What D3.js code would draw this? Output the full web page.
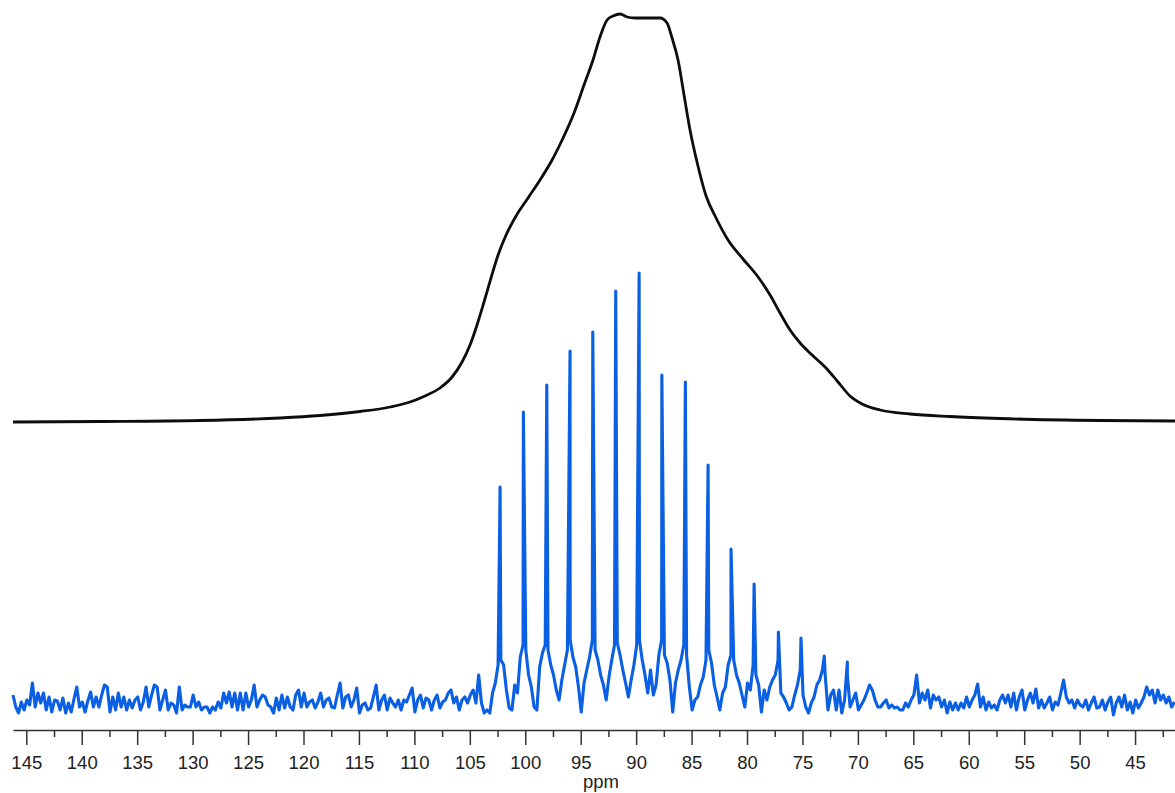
<!DOCTYPE html>
<html lang="en">
<head>
    <meta charset="UTF-8">
    <title>ppm spectrum</title>
    <script src="https://cdn.jsdelivr.net/npm/d3@7/dist/d3.min.js"></script>
    <style>
        body { margin: 0; background: #fff; }
        svg { display: block; }
    </style>
</head>
<body>
<script>
    // blue spectrum: intensity on a regular ppm grid (start, step)
    const gridStart = 146.2
    const gridStep = 0.25
    const specBase = [
        10,-2,-8,3,-5,5,0,22,-2,12,
        2,12,-5,8,-7,5,4,-5,7,-8,
        2,-7,6,18,-2,3,-7,4,13,-2,
        8,-2,10,20,18,-7,8,-5,12,-2,
        8,-5,5,-3,5,8,-5,3,18,-2,
        10,20,18,-5,5,15,-5,2,0,-8,
        18,-5,0,-2,-2,10,-2,3,-5,-2,
        -2,-8,-2,-5,3,-3,12,2,13,-2,
        12,-5,12,-5,12,-2,5,20,-2,5,
        10,8,0,-2,-8,7,-5,10,-3,8,
        -2,-5,10,15,-2,12,-2,3,5,-3,
        3,12,-2,5,7,-2,-3,10,22,-3,
        8,10,-2,5,17,-8,0,2,-5,-3,
        8,20,-5,5,10,-5,7,2,-2,5,
        -5,5,3,10,17,-7,5,10,-3,7,
        5,-5,5,10,-3,3,5,12,15,2,
        8,-5,5,8,2,10,15,2,30,2,
        -8,-5,-8,12,22,40,45,40,15,-3,
        -5,20,12,48,60,55,30,18,-2,-5,
        38,52,60,55,40,30,15,5,25,40,
        55,65,48,38,18,-7,22,35,48,65,
        55,45,30,20,5,28,45,60,62,50,
        35,22,8,25,40,60,65,45,30,12,
        35,10,20,50,65,50,42,25,-7,22,
        35,45,60,50,18,-5,5,8,20,28,
        45,55,42,20,8,-5,12,18,40,50,
        45,30,22,10,-2,22,15,40,30,20,
        -7,15,5,18,25,30,45,12,8,2,
        -5,-2,10,20,35,10,-2,-8,2,8,
        20,25,35,30,-5,10,15,-5,15,-8,
        5,30,-2,5,12,-5,0,5,12,20,
        15,5,-2,-2,2,5,-3,0,-3,-2,
        -5,-5,2,-2,5,10,30,2,12,5,
        15,-3,10,5,8,-2,5,-8,3,-5,
        2,-5,2,-3,8,-2,5,10,21,-2,
        8,-5,3,-3,0,-5,5,10,2,10,
        -2,12,-5,8,15,-5,5,12,2,16,
        -3,5,-3,2,8,-5,3,0,12,25,
        8,2,5,-3,5,0,-2,5,-5,2,
        8,-3,-2,5,-5,3,8,-10,2,8,
        -2,10,-5,3,-8,5,-3,2,8,18,
        10,15,2,15,5,10,2,8,-2,3
    ]

    // sharp lines of the blue spectrum
    const peakPpm = [102.27, 100.17, 98.06, 95.96, 93.91, 91.84, 89.73, 87.68,
                     85.56, 83.51, 81.44, 79.36, 77.17, 75.13, 73.03, 70.95]
    const peakInt = [218, 293, 320, 354, 373, 414, 432, 330,
                     323, 240, 156, 121, 73, 67, 49, 43]

    // black broad envelope
    const envPpm = [146.2, 138.35, 129.33, 122.12, 118.51, 114.9, 112.2, 110.39, 109.04, 107.69,
                    106.6, 105.7, 104.98, 104.35, 103.72, 103.09, 102.45, 101.73, 100.83, 99.75,
                    98.67, 97.58, 96.59, 95.6, 94.7, 93.89, 93.26, 92.62, 92.08, 91.45,
                    90.82, 90.1, 88.93, 87.84, 87.21, 86.76, 86.22, 85.68, 85.14, 84.51,
                    83.69, 82.79, 81.71, 80.36, 79.0, 77.92, 77.02, 76.12, 75.21, 74.13,
                    72.96, 71.79, 70.71, 69.62, 68.0, 65.3, 61.69, 57.18, 48.16, 41.4]
    const envInt = [0, 0.5, 1.5, 4, 6.5, 10.5, 15, 20, 26, 34,
                    45, 60, 77, 97, 120, 144, 167, 187, 206, 224,
                    242, 262, 284, 309, 337, 362, 385, 402, 406, 408,
                    405, 404, 404, 404, 399, 384, 362, 327, 292, 260,
                    226, 204, 182, 163, 145, 127, 109, 92, 79, 67,
                    55, 40, 26, 18, 12, 8, 5.5, 3.5, 1.5, 1]

    const majorTicks = [145, 140, 135, 130, 125, 120, 115, 110, 105, 100, 95, 90, 85, 80, 75, 70, 65, 60, 55, 50, 45]
    const minorTicks = [142.5, 137.5, 132.5, 127.5, 122.5, 117.5, 112.5, 107.5, 102.5, 97.5, 92.5,
                        87.5, 82.5, 77.5, 72.5, 67.5, 62.5, 57.5, 52.5, 47.5, 42.5]
    const axisTitle = 'ppm'

    const [width, height] = [1175, 793]
    const svg = d3.select('body').append('svg')
        .attr('width', width)
        .attr('height', height)
        .style('font-family', '"Liberation Sans", Arial, sans-serif')

    const x = d3.scaleLinear().domain([146.2, 41.4]).range([13, 1175])
    const ySpec = d3.scaleLinear().domain([0, 432]).range([705, 273])
    const yEnv = d3.scaleLinear().domain([0, 408]).range([422, 14])

    // merge grid and line tops into one trace
    const spec = specBase.map((v, i) => ({ppm: gridStart - i * gridStep, v: v}))
        .concat(peakPpm.map((p, i) => ({ppm: p, v: peakInt[i]})))
        .sort((a, b) => b.ppm - a.ppm)
    const env = envPpm.map((p, i) => ({ppm: p, v: envInt[i]}))

    svg.append('path')
        .datum(env)
        .attr('fill', 'none')
        .attr('stroke', '#0d0d0d')
        .attr('stroke-width', 2.8)
        .attr('stroke-linejoin', 'round')
        .attr('d', d3.line().x(d => x(d.ppm)).y(d => yEnv(d.v)).curve(d3.curveMonotoneX))

    svg.append('path')
        .datum(spec)
        .attr('fill', 'none')
        .attr('stroke', '#0a5fe3')
        .attr('stroke-width', 3.1)
        .attr('stroke-linejoin', 'round')
        .attr('d', d3.line().x(d => x(d.ppm)).y(d => ySpec(d.v)))

    // axis
    const gMinor = svg.append('g')
        .attr('transform', 'translate(0,730)')
        .call(d3.axisBottom(x).tickValues(minorTicks).tickSize(7).tickSizeOuter(0).tickFormat(''))
    gMinor.select('.domain').remove()

    const gAxis = svg.append('g')
        .attr('transform', 'translate(0,730)')
        .call(d3.axisBottom(x).tickValues(majorTicks).tickSize(15).tickSizeOuter(0).tickPadding(11).tickFormat(d3.format('d')))
    gAxis.select('.domain').attr('stroke', '#333').attr('stroke-width', 1.5)
    gAxis.selectAll('.tick line').attr('stroke', '#333').attr('stroke-width', 1.5)
    gMinor.selectAll('.tick line').attr('stroke', '#333').attr('stroke-width', 1.5)
    gAxis.selectAll('.tick text')
        .attr('fill', '#222')
        .style('font-size', '18.5px')
        .style('font-family', '"Liberation Sans", Arial, sans-serif')

    svg.append('text')
        .attr('x', 601)
        .attr('y', 788)
        .attr('text-anchor', 'middle')
        .attr('fill', '#222')
        .style('font-size', '18.5px')
        .text(axisTitle)
</script>
</body>
</html>
